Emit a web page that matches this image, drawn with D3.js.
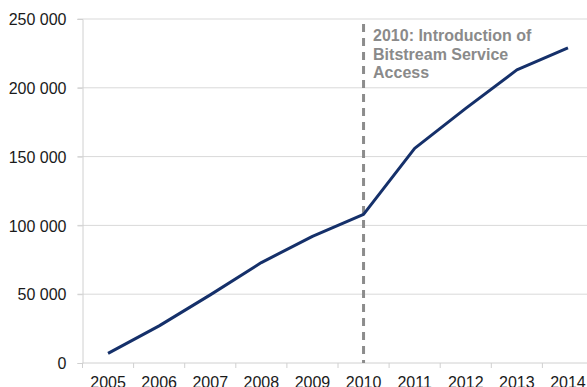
<!DOCTYPE html>
<html>
<head>
<meta charset="utf-8">
<script src="https://cdn.jsdelivr.net/npm/d3@7/dist/d3.min.js"></script>
<style>
  html, body { margin: 0; padding: 0; background: #fff; overflow: hidden; }
  svg { display: block; font-family: "Liberation Sans", Arial, sans-serif; }
</style>
</head>
<body>
<svg id="chart" width="587" height="387"></svg>
<script>
// Subscriber counts per year
const years = ["2005", "2006", "2007", "2008", "2009", "2010", "2011", "2012", "2013", "2014"];
const subscribers = [7000, 27000, 49500, 73000, 92000, 108000, 156000, 185000, 213000, 229000];
const yTicks = [0, 50000, 100000, 150000, 200000, 250000];
const markerYear = "2010";
const markerLines = ["2010: Introduction of", "Bitstream Service", "Access"];

const svg = d3.select("#chart");
const plotLeft = 82.5, plotTop = 19, plotBottom = 363, bandW = 51.1;

const x = d3.scaleBand().domain(years).range([plotLeft, plotLeft + bandW * years.length]);
const y = d3.scaleLinear().domain([0, 250000]).range([plotBottom, plotTop]);

const fmt = v => d3.format(",")(v).replace(/,/g, " ");

// horizontal gridlines
svg.append("g").selectAll("line").data(yTicks.filter(d => d > 0)).join("line")
  .attr("x1", plotLeft - 5).attr("x2", 587)
  .attr("y1", d => y(d)).attr("y2", d => y(d))
  .attr("stroke", "#d9d9d9").attr("stroke-width", 1);

// y axis
const yAxis = svg.append("g").attr("transform", `translate(${plotLeft},0)`)
  .call(d3.axisLeft(y).tickValues(yTicks).tickFormat(fmt).tickSize(5).tickPadding(11));
yAxis.select(".domain").attr("stroke", "#d0d0d0");
yAxis.selectAll(".tick line").attr("stroke", "#d0d0d0");
yAxis.selectAll(".tick text").attr("font-size", 16).attr("fill", "#1a1a1a")
  .attr("font-family", "Liberation Sans, Arial, sans-serif").attr("dy", "0.36em");

// x axis with ticks at band boundaries
const xg = svg.append("g").attr("transform", `translate(0,${plotBottom})`);
xg.append("line").attr("x1", plotLeft).attr("x2", 587).attr("y1", 0).attr("y2", 0)
  .attr("stroke", "#d0d0d0");
xg.selectAll("line.tk").data(years).join("line").attr("class", "tk")
  .attr("x1", d => x(d)).attr("x2", d => x(d)).attr("y1", 0).attr("y2", 5)
  .attr("stroke", "#d0d0d0");
xg.selectAll("text").data(years).join("text")
  .attr("x", d => x(d) + x.bandwidth() / 2).attr("y", 25)
  .attr("text-anchor", "middle").attr("font-size", 16).attr("fill", "#1a1a1a")
  .text(d => d);

// marker line
const mx = x(markerYear) + x.bandwidth() / 2;
svg.append("line")
  .attr("x1", mx).attr("x2", mx).attr("y1", 24).attr("y2", plotBottom)
  .attr("stroke", "#8c8c8c").attr("stroke-width", 3).attr("stroke-dasharray", "8,6");

svg.append("g").selectAll("text").data(markerLines).join("text")
  .attr("x", mx + 9.5).attr("y", (d, i) => 41 + i * 18.7)
  .attr("font-size", 16).attr("font-weight", "bold").attr("fill", "#8a8a8a")
  .text(d => d);

// series line
const line = d3.line()
  .x((d, i) => x(years[i]) + x.bandwidth() / 2)
  .y(d => y(d));
svg.append("path").datum(subscribers)
  .attr("d", line).attr("fill", "none")
  .attr("stroke", "#15306a").attr("stroke-width", 3).attr("stroke-linejoin", "round");
</script>
</body>
</html>
